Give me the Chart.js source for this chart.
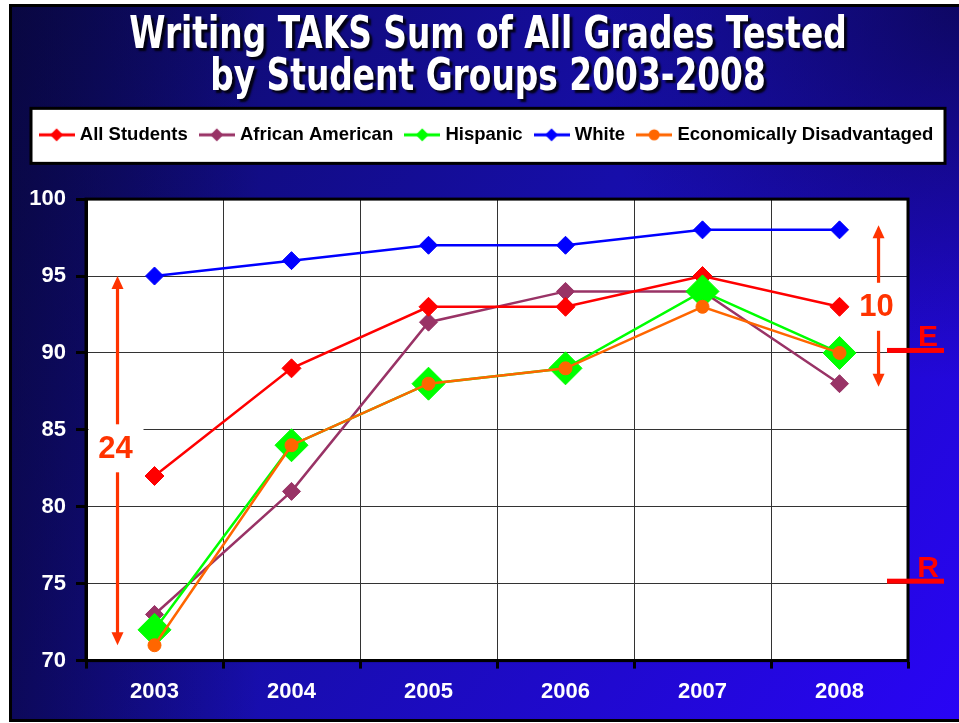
<!DOCTYPE html>
<html>
<head>
<meta charset="utf-8">
<title>Writing TAKS by Student Groups</title>
<script src="https://cdn.jsdelivr.net/npm/chart.js@4.4.1/dist/chart.umd.min.js"></script>
<style>
    html, body { margin: 0; padding: 0; background: #fff; }
    #wrap { width: 959px; height: 723px; position: relative; }
</style>
</head>
<body>
<div id="wrap"><canvas id="taksChart"></canvas></div>
<script>
// Chart data
const years = ['2003', '2004', '2005', '2006', '2007', '2008'];
const allStudents = [82, 89, 93, 93, 95, 93];
const africanAmerican = [73, 81, 92, 94, 94, 88];
const hispanic = [72, 84, 88, 89, 94, 90];
const whiteStudents = [95, 96, 97, 97, 98, 98];
const econDisadvantaged = [71, 84, 88, 89, 93, 90];
const yMin = 70;
const yMax = 100;
const yStep = 5;

// Gap arrows: top / bottom values and label value
const gapTops = [95, 98.3];
const gapBottoms = [71, 87.8];
const gapLabelValues = [83.8, 93];
const gapLabels = ['24', '10'];

// Rating levels marked on the right edge
const levelValues = [90, 75];
const levelLabels = ['E', 'R'];

const titleFont = '"DejaVu Sans Condensed", "DejaVu Sans", sans-serif';
const bodyFont = '"Liberation Sans", Arial, sans-serif';

// Small line+marker images for the legend
function legendIcon(color, shape) {
    const c = document.createElement('canvas');
    c.width = 36;
    c.height = 16;
    const g = c.getContext('2d');
    g.strokeStyle = color;
    g.lineWidth = 3;
    g.beginPath();
    g.moveTo(0, 8);
    g.lineTo(36, 8);
    g.stroke();
    g.fillStyle = color;
    g.beginPath();
    if (shape === 'circle') {
        g.arc(18, 8, 5.5, 0, Math.PI * 2);
    } else {
        g.moveTo(18, 1.5);
        g.lineTo(24.5, 8);
        g.lineTo(18, 14.5);
        g.lineTo(11.5, 8);
        g.closePath();
    }
    g.fill();
    return c;
}

// Slide background, frame, white legend box and white plot area
const slideBackground = {
    id: 'slideBackground',
    beforeDraw(chart) {
        const ctx = chart.ctx;
        const w = chart.width, h = chart.height;
        ctx.save();
        ctx.fillStyle = '#fff';
        ctx.fillRect(0, 0, w, h);

        const grad = ctx.createLinearGradient(0, 0, w, h);
        grad.addColorStop(0, '#0c0a5e');
        grad.addColorStop(0.5, '#170eaa');
        grad.addColorStop(1, '#2904f6');
        ctx.fillStyle = grad;
        ctx.fillRect(9, 4, w - 9, h - 6);

        const leftShade = ctx.createLinearGradient(10, 0, 260, 0);
        leftShade.addColorStop(0, 'rgba(6,5,40,0.55)');
        leftShade.addColorStop(1, 'rgba(6,5,40,0)');
        ctx.fillStyle = leftShade;
        ctx.fillRect(9, 4, 260, h - 6);

        const cornerShade = ctx.createRadialGradient(w, 0, 0, w, 0, 380);
        cornerShade.addColorStop(0, 'rgba(8,6,60,0.7)');
        cornerShade.addColorStop(1, 'rgba(8,6,60,0)');
        ctx.fillStyle = cornerShade;
        ctx.fillRect(9, 4, w - 9, h - 6);

        // black slide frame (left, top, bottom)
        ctx.fillStyle = '#000';
        ctx.fillRect(9, 4, 3, h - 6);
        ctx.fillRect(9, 4, w - 9, 3);
        ctx.fillRect(9, h - 4, w - 9, 3);

        // legend box, placed round the legend row
        const lg = chart.legend;
        if (lg) {
            const opts = lg.options.labels;
            const mid = lg.top + opts.padding + opts.font.size / 2;
            const bx = lg.left + 14, by = mid - 26.5;
            const bw = lg.right - lg.left - 28, bh = 55;
            ctx.fillStyle = '#fff';
            ctx.fillRect(bx, by, bw, bh);
            ctx.strokeStyle = '#000';
            ctx.lineWidth = 3;
            ctx.strokeRect(bx, by, bw, bh);
        }

        // plot area
        const a = chart.chartArea;
        ctx.fillStyle = '#fff';
        ctx.fillRect(a.left, a.top, a.right - a.left, a.bottom - a.top);
        ctx.restore();

        // give the title its drop shadow and a narrower face
        const tb = chart.titleBlock;
        if (tb && !tb._shadowed) {
            const orig = tb.draw;
            tb.draw = function () {
                const c = this.ctx;
                const cx = (this.left + this.right) / 2;
                c.save();
                c.translate(cx, 0);
                c.scale(0.83, 1);
                c.translate(-cx, 0);
                c.shadowColor = 'rgba(0,0,0,0.85)';
                c.shadowOffsetX = 3;
                c.shadowOffsetY = 3;
                c.shadowBlur = 2;
                orig.apply(this, arguments);
                c.restore();
            };
            tb._shadowed = true;
        }
    }
};

// Thick black border round the plot
const plotFrame = {
    id: 'plotFrame',
    beforeDatasetsDraw(chart) {
        const ctx = chart.ctx;
        const a = chart.chartArea;
        ctx.save();
        ctx.strokeStyle = '#000';
        ctx.lineWidth = 3;
        ctx.strokeRect(a.left, a.top, a.right - a.left, a.bottom - a.top);
        ctx.restore();
    }
};

function drawDoubleArrow(ctx, x, yTop, yBottom, color) {
    const head = 13, half = 6;
    ctx.strokeStyle = color;
    ctx.fillStyle = color;
    ctx.lineWidth = 3.2;
    ctx.beginPath();
    ctx.moveTo(x, yTop + head - 1);
    ctx.lineTo(x, yBottom - head + 1);
    ctx.stroke();
    ctx.beginPath();
    ctx.moveTo(x, yTop);
    ctx.lineTo(x + half, yTop + head);
    ctx.lineTo(x - half, yTop + head);
    ctx.closePath();
    ctx.fill();
    ctx.beginPath();
    ctx.moveTo(x, yBottom);
    ctx.lineTo(x + half, yBottom - head);
    ctx.lineTo(x - half, yBottom - head);
    ctx.closePath();
    ctx.fill();
}

// Gap arrows with their labels and the E / R level marks
const gapMarks = {
    id: 'gapMarks',
    afterDraw(chart) {
        const ctx = chart.ctx;
        const a = chart.chartArea;
        const xs = chart.scales.x;
        const ys = chart.scales.y;
        const firstX = xs.getPixelForValue(0);
        const lastX = xs.getPixelForValue(years.length - 1);
        const arrowXs = [
            a.left + 0.46 * (firstX - a.left),
            lastX + 0.57 * (a.right - lastX)
        ];
        ctx.save();
        gapLabels.forEach((txt, i) => {
            const x = arrowXs[i];
            drawDoubleArrow(ctx, x, ys.getPixelForValue(gapTops[i]), ys.getPixelForValue(gapBottoms[i]), '#ff3300');
            const ly = ys.getPixelForValue(gapLabelValues[i]);
            const rx0 = Math.max(x - 29, a.left + 1.5);
            const rx1 = Math.min(x + 26, a.right - 1.5);
            ctx.fillStyle = '#fff';
            ctx.fillRect(rx0, ly - 24, rx1 - rx0, 48);
            ctx.fillStyle = '#ff3300';
            ctx.font = 'bold 31px ' + bodyFont;
            ctx.textAlign = 'center';
            ctx.textBaseline = 'middle';
            ctx.fillText(txt, x - 2, ly + 1);
        });

        levelLabels.forEach((txt, i) => {
            const y = ys.getPixelForValue(levelValues[i]);
            ctx.fillStyle = '#ff0000';
            ctx.fillRect(a.right - 21, y - 5, 57, 5);
            ctx.font = 'bold 30px ' + bodyFont;
            ctx.textAlign = 'center';
            ctx.textBaseline = 'alphabetic';
            ctx.fillText(txt, a.right + 20, y - 7);
        });
        ctx.restore();
    }
};

function series(label, data, color, shape, radius, order) {
    return {
        label: label,
        data: data,
        borderColor: color,
        backgroundColor: color,
        borderWidth: 2.5,
        pointStyle: shape,
        pointRadius: radius,
        pointHoverRadius: radius,
        pointBorderWidth: 1,
        pointBorderColor: color,
        pointBackgroundColor: color,
        tension: 0,
        order: order
    };
}

const icons = [
    legendIcon('#ff0000', 'rectRot'),
    legendIcon('#993366', 'rectRot'),
    legendIcon('#00ff00', 'rectRot'),
    legendIcon('#0000ff', 'rectRot'),
    legendIcon('#ff6600', 'circle')
];

new Chart(document.getElementById('taksChart'), {
    type: 'line',
    data: {
        labels: years,
        datasets: [
            series('All Students', allStudents, '#ff0000', 'rectRot', 9.5, 2),
            series('African American', africanAmerican, '#993366', 'rectRot', 9, 3),
            series('Hispanic', hispanic, '#00ff00', 'rectRot', 16.5, 1),
            series('White', whiteStudents, '#0000ff', 'rectRot', 9, 4),
            series('Economically Disadvantaged', econDisadvantaged, '#ff6600', 'circle', 6.5, 0)
        ]
    },
    options: {
        responsive: true,
        maintainAspectRatio: false,
        animation: false,
        layout: {
            padding: { top: 6, left: 17, right: 0, bottom: 8 }
        },
        plugins: {
            title: {
                display: true,
                text: ['Writing TAKS Sum of All Grades Tested', 'by Student Groups 2003-2008'],
                color: '#ffffff',
                font: { family: titleFont, size: 44, weight: 'bold', lineHeight: 0.95 },
                padding: { top: 10, bottom: 11 }
            },
            legend: {
                position: 'top',
                labels: {
                    color: '#000',
                    font: { family: bodyFont, size: 18.5, weight: 'bold' },
                    usePointStyle: true,
                    pointStyleWidth: 28,
                    padding: 15,
                    sort: (a, b) => a.datasetIndex - b.datasetIndex,
                    generateLabels(chart) {
                        const items = Chart.defaults.plugins.legend.labels.generateLabels(chart);
                        items.forEach(it => { it.pointStyle = icons[it.datasetIndex]; });
                        return items;
                    }
                }
            },
            tooltip: { enabled: false }
        },
        scales: {
            x: {
                offset: true,
                grid: {
                    offset: true,
                    color: '#333',
                    lineWidth: 1,
                    tickLength: 8,
                    tickColor: '#000',
                    tickWidth: 3
                },
                border: { display: true, color: '#000', width: 3 },
                ticks: {
                    color: '#fff',
                    font: { family: bodyFont, size: 22, weight: 'bold' },
                    padding: 10
                }
            },
            y: {
                min: yMin,
                max: yMax,
                afterFit(scale) { scale.width = 69; },
                grid: {
                    color: '#333',
                    lineWidth: 1,
                    tickLength: 10,
                    tickColor: '#000',
                    tickWidth: 3
                },
                border: { display: true, color: '#000', width: 3 },
                ticks: {
                    stepSize: yStep,
                    color: '#fff',
                    font: { family: bodyFont, size: 22, weight: 'bold' },
                    padding: 10
                }
            },
            // empty spacer axes that hold room for the level marks and legend gap
            yRight: {
                type: 'linear',
                position: 'right',
                min: 0,
                max: 1,
                afterFit(scale) { scale.width = 51; },
                grid: { display: false },
                border: { display: false },
                ticks: { display: false }
            },
            xTop: {
                type: 'linear',
                position: 'top',
                min: 0,
                max: 1,
                afterFit(scale) { scale.height = 45; },
                grid: { display: false },
                border: { display: false },
                ticks: { display: false }
            }
        }
    },
    plugins: [slideBackground, plotFrame, gapMarks]
});
</script>
</body>
</html>
